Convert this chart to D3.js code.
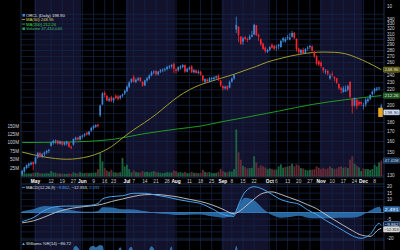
<!DOCTYPE html>
<html>
<head>
<meta charset="utf-8">
<script src="https://cdn.jsdelivr.net/npm/d3@7/dist/d3.min.js"></script>
<style>
  html, body { margin: 0; padding: 0; background: #000; }
  svg { display: block; }
  text { font-family: "Liberation Sans", "DejaVu Sans", sans-serif; }
</style>
</head>
<body>
<svg id="chart" width="400" height="250"></svg>
<script>
// ORCL daily, Apr 23 – Dec 11 2025
const tradingDays = [
  "2025-04-23","2025-04-24","2025-04-25","2025-04-28","2025-04-29","2025-04-30",
  "2025-05-01","2025-05-02","2025-05-05","2025-05-06","2025-05-07","2025-05-08","2025-05-09","2025-05-12","2025-05-13","2025-05-14","2025-05-15","2025-05-16","2025-05-19","2025-05-20","2025-05-21","2025-05-22","2025-05-23","2025-05-27","2025-05-28","2025-05-29","2025-05-30",
  "2025-06-02","2025-06-03","2025-06-04","2025-06-05","2025-06-06","2025-06-09","2025-06-10","2025-06-11","2025-06-12","2025-06-13","2025-06-16","2025-06-17","2025-06-18","2025-06-20","2025-06-23","2025-06-24","2025-06-25","2025-06-26","2025-06-27","2025-06-30",
  "2025-07-01","2025-07-02","2025-07-03","2025-07-07","2025-07-08","2025-07-09","2025-07-10","2025-07-11","2025-07-14","2025-07-15","2025-07-16","2025-07-17","2025-07-18","2025-07-21","2025-07-22","2025-07-23","2025-07-24","2025-07-25","2025-07-28","2025-07-29","2025-07-30","2025-07-31",
  "2025-08-01","2025-08-04","2025-08-05","2025-08-06","2025-08-07","2025-08-08","2025-08-11","2025-08-12","2025-08-13","2025-08-14","2025-08-15","2025-08-18","2025-08-19","2025-08-20","2025-08-21","2025-08-22","2025-08-25","2025-08-26","2025-08-27","2025-08-28","2025-08-29",
  "2025-09-02","2025-09-03","2025-09-04","2025-09-05","2025-09-08","2025-09-09","2025-09-10","2025-09-11","2025-09-12","2025-09-15","2025-09-16","2025-09-17","2025-09-18","2025-09-19","2025-09-22","2025-09-23","2025-09-24","2025-09-25","2025-09-26","2025-09-29","2025-09-30",
  "2025-10-01","2025-10-02","2025-10-03","2025-10-06","2025-10-07","2025-10-08","2025-10-09","2025-10-10","2025-10-13","2025-10-14","2025-10-15","2025-10-16","2025-10-17","2025-10-20","2025-10-21","2025-10-22","2025-10-23","2025-10-24","2025-10-27","2025-10-28","2025-10-29","2025-10-30","2025-10-31",
  "2025-11-03","2025-11-04","2025-11-05","2025-11-06","2025-11-07","2025-11-10","2025-11-11","2025-11-12","2025-11-13","2025-11-14","2025-11-17","2025-11-18","2025-11-19","2025-11-20","2025-11-21","2025-11-24","2025-11-25","2025-11-26","2025-11-28",
  "2025-12-01","2025-12-02","2025-12-03","2025-12-04","2025-12-05","2025-12-08","2025-12-09","2025-12-10","2025-12-11"
];

const opens = [
  131,133,136,138,139,141,
  140,145,149,146,148,149.5,151,156,159,160,161,158,160,157,158,159,155,157,162,164,162,
  165,166,169,167,171,174,175,177.5,188,201,216,212,206,210,206,212,211,209,212,215,
  218,224,231,238,231,234,237,231,226,233,236,240,245,247,242,246,248,249,250,253,254,258,
  249,248,252,253,256,246,250,254,245,248,244,246,240,231,234,232,235,235,237,240,233,
  225,222,225,223,231,236,319,324,305,296,304,301,300,305,309,327,308,300,292,285,278,
  281,290,288,285,288,286,298,296,302,300,305,312,301,283,276,281,276,284,286,287,278,270,262,
  260,252,246,247,236,242,238,236,228,222,217,218,220,231,208,200,207,204,204,
  200,201,205,208,214,218,220,222,196
];
const highs = [
  134.5,137,139,140.5,141.5,141.5,
  146,150,150,149,150.5,152,153,160,162,162,161.5,161,160.5,160,161,159.5,156,163,165,164.5,166,
  167,168.5,170,171,175,177,178,178.5,201,217,218,213,210,212,210,214,213,213,215,220,
  226,232,236,241,236,238,238,232,234,238,242,247,248,248,247,250,251,252,255,256,258,260,
  251,254,256,258,257,252,254,256,250,249,248,247,241,236,236,238,238,239,240,242,234,
  226,226,226,233,237,242,345,325,306,305,306,303,309,316,330,328,311,302,294,287,283,
  288,293,290,290,292,299,304,304,308,312,316,314,302,285,283,285,284,288,290,289,279,272,264,
  262,253,250,249,243,246,239,237,229,224,225,226,227,232,209,210,208,206,205,
  203,209,210,214,219,223,224,224,202
];
const lows = [
  129.5,132,135,136,138,134,
  139,144,145,144.5,146,148,149,155,157,158,157,157,156,156,156,154,152.5,156,161,161,161,
  163,164.5,166,166,170,172,174,174.5,186,200,210,205,204,204,203,208,206,207,210,213,
  217,222,229,230,229,232,231,224,225,231,234,239,242,240,240,244,245,246,248,250,251,244,
  243,246,249,251,244,245,248,244,243,243,242,240,231,229,230,231,232,233,235,232,224,
  219,220,219,222,230,234,312,295,290,290,298,295,299,304,308,306,297,288,281,276,276,
  279,283,281,280,282,285,294,294,299,298,303,300,278,273,274,274,275,280,283,278,268,256,254,
  252,244,242,240,234,238,232,228,220,215,216,217,218,209,190,198,195,199,199,
  195,198,203,206,212,215,218,219,189
];
const closes = [
  133.5,136.5,138.5,139.5,140.5,139,
  145,149,146,148,149.5,151,152,159,160.5,161,158,160,157,159,159.5,155,154,162.5,163.5,162,165.5,
  166,167.5,167,170,174,176,177,176,199.8,215,213,206,208,205.5,209,209,208,212,214,218.6,
  224,230,235,231,234,236,232,226,233,236,240,245,246,242,246,248,249,250,253,254,256,250,
  247,253,254,256,246,250,252,245,248,244,246,241,233,235,232,236,236.5,237,239,234,226,
  222,224,221,231,236,241,328,308,292,302,301,299,305,308,328,308,305,291,283,279,281,
  286,285,283,287,290,297,302,301,304,303,312,303,282,277,281,276,283,285,288,280,270,258,257,
  255,248,247,243,240,241,236,230,222,220,222,220,225,210.7,198.8,209,199,201,201.9,
  200.3,207,207.7,213,217.6,221.5,221.5,223,198.9
];
// volume in millions of shares
const volumes = [
  12,10,9,9,9,12,
  11,12,10,9,9,10,9,16,12,11,9,9,8,8,8,9,8,12,10,9,13,
  10,10,11,10,11,11,12,22,70,45,25,18,14,20,13,12,11,13,55,30,
  35,22,12,18,13,12,12,16,13,14,12,14,16,13,12,11,10,11,13,12,12,18,
  16,12,13,11,14,10,10,14,11,11,10,11,20,14,12,13,10,10,11,14,22,
  16,13,12,15,14,22,140,72,50,32,28,24,25,26,60,42,26,33,30,27,22,
  24,22,20,21,30,36,26,28,30,32,38,30,36,33,25,24,20,18,20,20,22,30,26,
  22,26,22,24,30,25,22,24,28,30,26,28,25,50,60,38,32,27,16,
  24,22,22,20,22,35,30,42,47.4
];

// moving averages
const ma50Dates = ["2025-04-23","2025-05-07","2025-05-21","2025-06-05","2025-06-12","2025-06-20","2025-06-27","2025-07-07","2025-07-14","2025-07-21","2025-07-28","2025-08-04","2025-08-11","2025-08-18","2025-08-25","2025-09-02","2025-09-09","2025-09-16","2025-09-23","2025-09-30","2025-10-07","2025-10-14","2025-10-21","2025-10-28","2025-11-04","2025-11-11","2025-11-18","2025-11-25","2025-12-03","2025-12-11"];
const ma50Values = [150,145.5,143.5,146,149.5,155,163.5,172,180,189,200,211,220,227,232,237,242,248,254,261,266,270.5,274,276.5,277.5,277,274.5,268,260,248.96];
const ma200Dates = ["2025-04-23","2025-05-21","2025-06-20","2025-07-14","2025-08-04","2025-08-18","2025-09-02","2025-09-16","2025-10-07","2025-10-28","2025-11-18","2025-12-11"];
const ma200Values = [159,159.5,162,168,173,176,181,185.5,193,201,207,212.26];

// MACD(12,26,9)
const macdDates = ["2025-04-23","2025-04-30","2025-05-07","2025-05-14","2025-05-21","2025-05-29","2025-06-05","2025-06-11","2025-06-13","2025-06-20","2025-06-27","2025-07-07","2025-07-14","2025-07-21","2025-07-28","2025-08-04","2025-08-11","2025-08-18","2025-08-25","2025-09-02","2025-09-09","2025-09-10","2025-09-16","2025-09-22","2025-09-26","2025-10-02","2025-10-08","2025-10-14","2025-10-20","2025-10-24","2025-10-30","2025-11-05","2025-11-11","2025-11-17","2025-11-21","2025-11-28","2025-12-04","2025-12-10","2025-12-11"];
const macdValues = [-7,-4,1.5,4.5,5,5,5.5,7,10.5,12.3,13,14.9,14.9,13.5,12,10,8.5,7,3,-1.5,-3,1.5,16,20,18,14,10,8,6.5,2,-1.5,-6,-10,-14,-18,-20,-17,-8.5,-9.862];
const signalValues = [-8,-6.5,-3.5,0,2.5,4,5,5.8,6.5,8.5,10.5,12.5,13.8,14,13.2,12,10.2,8.5,6,2.5,-1,-0.5,4.5,10.5,15,16,14,11.5,9,6,3,-1.5,-5.8,-10,-14,-17.5,-18.5,-13,-12.353];

// Williams %R(14), only the top of this pane is visible
const wrDates = ["2025-04-23","2025-05-14","2025-05-23","2025-05-27","2025-05-28","2025-05-30","2025-06-04","2025-06-05","2025-06-06","2025-06-09","2025-06-10","2025-06-12","2025-06-13","2025-06-17","2025-06-23","2025-06-25","2025-06-26","2025-06-30","2025-07-02","2025-07-03","2025-07-08","2025-07-14","2025-07-16","2025-07-17","2025-07-18","2025-07-22","2025-07-29","2025-07-30","2025-07-31","2025-08-12","2025-09-02","2025-09-09","2025-09-10","2025-09-12","2025-10-15","2025-11-21","2025-12-10","2025-12-11"];
const wrValues = [-40,-30,-60,-8,-3,-12,-30,-10,-4,-3,-6,-2,-3,-40,-30,-12,-6,-30,-8,-5,-35,-40,-10,-4,-8,-30,-12,-4,-30,-40,-90,-20,-3,-45,-40,-95,-40,-86.72];

// date axis ticks
const tickDates = ["2025-05-01","2025-05-12","2025-05-19","2025-05-27","2025-06-02","2025-06-09","2025-06-16","2025-06-23","2025-07-01","2025-07-07","2025-07-14","2025-07-21","2025-07-28","2025-08-01","2025-08-11","2025-08-18","2025-08-25","2025-09-02","2025-09-08","2025-09-15","2025-09-22","2025-10-01","2025-10-06","2025-10-13","2025-10-20","2025-10-27","2025-11-03","2025-11-10","2025-11-17","2025-11-24","2025-12-01","2025-12-08"];
const tickLabels = ["May","12","19","27","Jun","9","16","23","Jul","7","14","21","28","Aug","11","18","25","Sep","8","15","22","Oct","6","13","20","27","Nov","10","17","24","Dec","8"];

const priceTicks = [130,140,150,160,170,180,190,200,210,220,230,240,250,260,270,280,290,300,310,320,330,340,350];
const volumeTicks = [25,50,75,100,125,150];
const macdTicks = [-20,-15,-10,-5,0,5,10,15,20];

const lastClose = 198.90, lastMa50 = 248.96, lastMa200 = 212.26, lastVolume = 47414040;
const lastMacd = -9.862, lastSignal = -12.353, lastHist = 2.491, lastWr = -86.72;

// ---------------------------------------------------------------
const svg = d3.select('#chart');
const left = 21, right = 384;
const priceTop = 0, priceBottom = 177;
const macdTop = 184, macdBottom = 240;
const wrTop = 240, wrBottom = 250;

const slot = d3.scaleBand().domain(tradingDays).range([left, 382.4]);
const cx = d => slot(d) + slot.bandwidth() / 2;
const bodyW = slot.bandwidth() * 0.75;

const priceY = d3.scaleLog().domain([130, 340]).range([175.3, 19]);
const volY = d3.scaleLinear().domain([0, 150]).range([176.5, 126]);
const macdY = d3.scaleLinear().domain([-20, 20]).range([238.3, 186.7]);
const wrY = d3.scaleLinear().domain([-100, 0]).range([300, 244]);

const gridColor = '#16264a';
const axisText = '#cfd3da';
const upColor = '#3f88d8';
const downColor = '#f22630';

svg.append('rect').attr('width', 400).attr('height', 250).attr('fill', '#000');

// month bands
const months = d3.groups(tradingDays, d => d.slice(0, 7));
const panes = [[priceTop, priceBottom], [macdTop, macdBottom], [wrTop, wrBottom]];
months.forEach(([m, days]) => {
  if (+m.slice(5) % 2 === 0) return;
  const x0 = slot(days[0]);
  const x1 = slot(days[days.length - 1]) + slot.bandwidth();
  panes.forEach(([t, b]) => {
    svg.append('rect').attr('x', x0).attr('y', t).attr('width', x1 - x0).attr('height', b - t)
      .attr('fill', '#12122c');
  });
});

// clips
const defs = svg.append('defs');
defs.append('clipPath').attr('id', 'clipPrice').append('rect')
  .attr('x', left).attr('y', priceTop).attr('width', right - left).attr('height', priceBottom - priceTop);
defs.append('clipPath').attr('id', 'clipMacd').append('rect')
  .attr('x', left).attr('y', macdTop).attr('width', right - left).attr('height', macdBottom - macdTop);
defs.append('clipPath').attr('id', 'clipWr').append('rect')
  .attr('x', left).attr('y', wrTop).attr('width', right - left).attr('height', wrBottom - wrTop);

// vertical grid
const grid = svg.append('g').attr('stroke', gridColor).attr('stroke-width', 0.7);
tickDates.forEach(d => {
  panes.forEach(([t, b]) => {
    grid.append('line').attr('x1', cx(d)).attr('x2', cx(d)).attr('y1', t).attr('y2', b);
  });
});
// horizontal grid
priceTicks.forEach(p => {
  grid.append('line').attr('x1', left).attr('x2', right).attr('y1', priceY(p)).attr('y2', priceY(p));
});
macdTicks.forEach(v => {
  grid.append('line').attr('x1', left).attr('x2', right).attr('y1', macdY(v)).attr('y2', macdY(v));
});

// pane borders
const border = svg.append('g').attr('stroke', '#24385c').attr('stroke-width', 0.8).attr('fill', 'none');
border.append('line').attr('x1', left).attr('x2', left).attr('y1', 0).attr('y2', 250);
border.append('line').attr('x1', right).attr('x2', right).attr('y1', 0).attr('y2', 250);
[priceBottom, macdTop, wrTop].forEach(y => {
  border.append('line').attr('x1', left).attr('x2', right).attr('y1', y).attr('y2', y);
});

// ---- volume
const volG = svg.append('g').attr('clip-path', 'url(#clipPrice)');
volG.selectAll('rect').data(tradingDays).join('rect')
  .attr('x', d => cx(d) - slot.bandwidth() * 0.42)
  .attr('width', slot.bandwidth() * 0.84)
  .attr('y', (d, i) => volY(volumes[i]))
  .attr('height', (d, i) => volY(0) - volY(volumes[i]))
  .attr('fill', (d, i) => (i > 0 && closes[i] < closes[i - 1]) ? '#6a2e3a' : '#1d6b45')
  .attr('opacity', 0.9);

// ---- moving averages
const priceG = svg.append('g').attr('clip-path', 'url(#clipPrice)');
const maLine = d3.line().x(d => cx(d[0])).y(d => priceY(d[1])).curve(d3.curveMonotoneX);
priceG.append('path').datum(d3.zip(ma200Dates, ma200Values)).attr('d', maLine)
  .attr('fill', 'none').attr('stroke', '#1f9a22').attr('stroke-width', 1);
priceG.append('path').datum(d3.zip(ma50Dates, ma50Values)).attr('d', maLine)
  .attr('fill', 'none').attr('stroke', '#a09c2c').attr('stroke-width', 1);

// ---- candles
const candle = priceG.selectAll('g.candle').data(tradingDays).join('g').attr('class', 'candle')
  .attr('stroke', (d, i) => closes[i] >= opens[i] ? upColor : downColor)
  .attr('fill', (d, i) => closes[i] >= opens[i] ? upColor : downColor);
candle.append('line')
  .attr('x1', d => cx(d)).attr('x2', d => cx(d))
  .attr('y1', (d, i) => priceY(highs[i])).attr('y2', (d, i) => priceY(lows[i]))
  .attr('stroke-width', 0.8);
candle.append('rect')
  .attr('x', d => cx(d) - bodyW / 2).attr('width', bodyW)
  .attr('y', (d, i) => priceY(Math.max(opens[i], closes[i])))
  .attr('height', (d, i) => Math.max(0.8, priceY(Math.min(opens[i], closes[i])) - priceY(Math.max(opens[i], closes[i]))))
  .attr('stroke', 'none');

// last price tag sits just below the "200" tick label
const closeTagY = priceY(lastClose) + 6.2;
svg.append('rect').attr('x', right - 5.8).attr('y', closeTagY - 4.6).attr('width', 4.6).attr('height', 9.2)
  .attr('fill', '#e8a524');

// ---- MACD
const macdG = svg.append('g').attr('clip-path', 'url(#clipMacd)');
const macdPts = d3.zip(macdDates, macdValues, signalValues);
macdG.append('path').datum(macdPts)
  .attr('d', d3.area().x(d => cx(d[0])).y0(macdY(0)).y1(d => macdY(d[1] - d[2])).curve(d3.curveMonotoneX))
  .attr('fill', '#2f77b8').attr('opacity', 0.85);
macdG.append('line').attr('x1', left).attr('x2', right).attr('y1', macdY(0)).attr('y2', macdY(0))
  .attr('stroke', '#3a86c8').attr('stroke-width', 0.8);
macdG.append('path').datum(macdPts)
  .attr('d', d3.line().x(d => cx(d[0])).y(d => macdY(d[2])).curve(d3.curveMonotoneX))
  .attr('fill', 'none').attr('stroke', '#c9c9c9').attr('stroke-width', 0.9);
macdG.append('path').datum(macdPts)
  .attr('d', d3.line().x(d => cx(d[0])).y(d => macdY(d[1])).curve(d3.curveMonotoneX))
  .attr('fill', 'none').attr('stroke', '#4aa3ea').attr('stroke-width', 1);

// ---- Williams %R
const wrG = svg.append('g').attr('clip-path', 'url(#clipWr)');
const wrPts = d3.zip(wrDates, wrValues);
wrG.append('path').datum(wrPts)
  .attr('d', d3.area().x(d => cx(d[0])).y0(wrY(-100)).y1(d => wrY(d[1])).curve(d3.curveMonotoneX))
  .attr('fill', '#3c84c8').attr('opacity', 0.8);

// ---- date axis
const dateG = svg.append('g').attr('font-size', 4.8).attr('text-anchor', 'middle');
tickLabels.forEach((t, i) => {
  const isMonth = isNaN(+t);
  dateG.append('text').attr('x', cx(tickDates[i])).attr('y', 182.6)
    .attr('fill', isMonth ? '#ffffff' : '#c4c8d0')
    .attr('font-weight', isMonth ? 'bold' : 'normal')
    .text(t);
});

// ---- right axis
const axisG = svg.append('g').attr('font-size', 4.6).attr('fill', axisText);
const fmt2 = d3.format('.2f');
const fmt3 = d3.format('.3f');
const valueLabels = [
  { y: priceY(lastMa50), text: fmt2(lastMa50), fill: '#4b4a14', stroke: '#a6a230', color: '#f0f0d0' },
  { y: priceY(lastMa200), text: fmt2(lastMa200), fill: '#1c4a1c', stroke: '#2fa030', color: '#e8f4e8' },
  { y: closeTagY, text: fmt2(lastClose), fill: '#dfe6f2', stroke: '#6f8fc0', color: '#10204a' },
  { y: volY(lastVolume / 1e6), text: fmt2(lastVolume / 1e6) + 'M', fill: '#0e2a4e', stroke: '#4f80c0', color: '#dfe8f8' },
  { y: macdY(lastHist), text: fmt3(lastHist), fill: '#2a6aa8', stroke: '#5a9ad8', color: '#ffffff' },
  { y: macdY(lastMacd) - 1, text: fmt3(lastMacd), fill: '#0e2a4e', stroke: '#8fc0f0', color: '#e8f0ff' },
  { y: macdY(lastSignal) + 1, text: fmt3(lastSignal), fill: '#d4d4d4', stroke: '#f0f0f0', color: '#202020' }
];
const clash = y => valueLabels.some(v => Math.abs(v.y - y) < 4.5);
priceTicks.forEach(p => {
  if (priceY(p) < 15 || (p !== 200 && clash(priceY(p)))) return;
  axisG.append('text').attr('x', 387).attr('y', priceY(p) + 1.6).text(p);
});
axisG.append('text').attr('x', 387).attr('y', 7.5).text('10');
macdTicks.forEach(v => {
  if (clash(macdY(v))) return;
  axisG.append('text').attr('x', 387).attr('y', macdY(v) + 1.6).text(v);
});
valueLabels.forEach(v => {
  const g = svg.append('g');
  g.append('rect').attr('x', 383.5).attr('y', v.y - 2.6).attr('width', 16.2).attr('height', 5.2)
    .attr('rx', 0.8).attr('fill', v.fill).attr('stroke', v.stroke).attr('stroke-width', 0.5);
  g.append('text').attr('x', 384.6).attr('y', v.y + 1.6).attr('font-size', 4.3).attr('fill', v.color)
    .attr('textLength', 14).attr('lengthAdjust', 'spacingAndGlyphs').text(v.text);
});

// left volume axis
const volAxis = svg.append('g').attr('font-size', 4.6).attr('fill', axisText).attr('text-anchor', 'end');
volumeTicks.forEach(v => {
  volAxis.append('text').attr('x', 19).attr('y', volY(v) + 1.6).text(v + 'M');
});

// ---- legends
const legend = svg.append('g').attr('font-size', 4.2);
legend.append('rect').attr('x', 22.5).attr('y', 14).attr('width', 2.4).attr('height', 2.6).attr('fill', upColor);
legend.append('text').attr('x', 26).attr('y', 16.6).attr('fill', '#e6e6e6').text('ORCL (Daily) ' + fmt2(lastClose));
legend.append('line').attr('x1', 22).attr('x2', 25).attr('y1', 19.6).attr('y2', 19.6).attr('stroke', '#c8c440').attr('stroke-width', 0.8);
legend.append('text').attr('x', 26).attr('y', 21.1).attr('fill', '#d6d24a').text('MA(50) ' + fmt2(lastMa50));
legend.append('line').attr('x1', 22).attr('x2', 25).attr('y1', 24.1).attr('y2', 24.1).attr('stroke', '#2fbf2f').attr('stroke-width', 0.8);
legend.append('text').attr('x', 26).attr('y', 25.6).attr('fill', '#3fcf3f').text('MA(200) ' + fmt2(lastMa200));
legend.append('rect').attr('x', 22.5).attr('y', 27.4).attr('width', 2.4).attr('height', 2.6).attr('fill', '#2f9f5f');
legend.append('text').attr('x', 26).attr('y', 30.1).attr('fill', '#3fbf6f').text('Volume ' + d3.format(',')(lastVolume));

const macdLegend = svg.append('g').attr('font-size', 4.2);
macdLegend.append('line').attr('x1', 22).attr('x2', 25).attr('y1', 187.6).attr('y2', 187.6).attr('stroke', '#4aa3ea').attr('stroke-width', 0.8);
const ml = macdLegend.append('text').attr('x', 26).attr('y', 189.1).attr('fill', '#dfe3ea');
ml.append('tspan').text('MACD(12,26,9) ');
ml.append('tspan').attr('fill', '#4aa3ea').text(fmt3(lastMacd));
ml.append('tspan').text(', ');
ml.append('tspan').attr('fill', '#e0e0e0').text(fmt3(lastSignal));
ml.append('tspan').text(', ');
ml.append('tspan').attr('fill', '#4a8fd8').text(fmt3(lastHist));

const wrLegend = svg.append('g').attr('font-size', 4.2);
wrLegend.append('path').attr('d', 'M22,245 L23.5,242.5 L25,245 Z').attr('fill', '#4aa3ea');
wrLegend.append('text').attr('x', 26).attr('y', 245.1).attr('fill', '#dfe3ea')
  .text('Williams %R(14) ' + fmt2(lastWr));
</script>
</body>
</html>
